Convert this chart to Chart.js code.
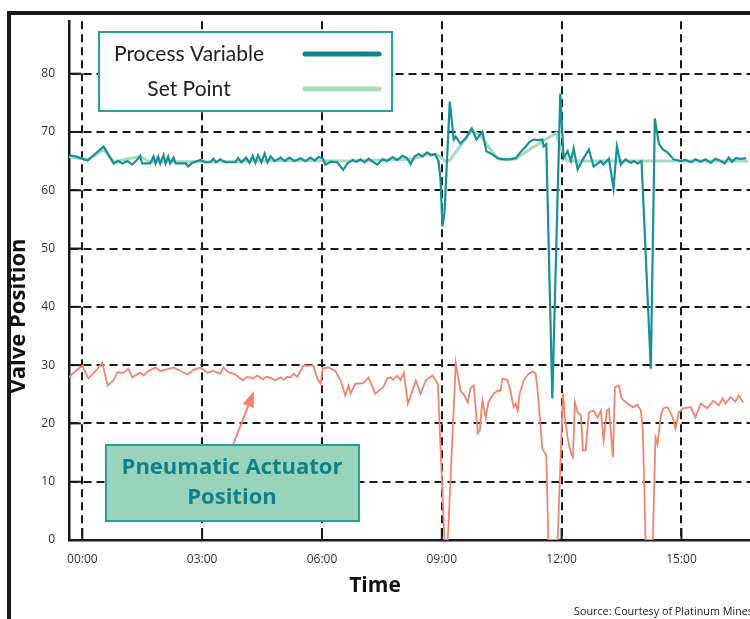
<!DOCTYPE html>
<html lang="en">
<head>
  <meta charset="UTF-8">
  <title>Valve Position</title>
  <script src="https://cdn.jsdelivr.net/npm/chart.js"></script>
  <style>
    html, body { margin: 0; padding: 0; background: #fff; overflow: hidden; }
    #wrap { width: 760px; height: 619px; position: relative; }
  </style>
</head>
<body>
  <div id="wrap"><canvas id="valveChart"></canvas></div>
  <script>
// x axis is minutes since 00:00, labelled every 3 hours
const xTickMinutes = [0, 180, 360, 540, 720, 900];
const xTickLabels = ['00:00', '03:00', '06:00', '09:00', '12:00', '15:00'];
const yTickValues = [0, 10, 20, 30, 40, 50, 60, 70, 80];

// Process Variable
const pvMinutes = [
  -20, -10, 8, 32, 47, 54, 60, 68, 75, 83,
  87, 90, 102, 107, 110, 114, 117, 122, 125, 129,
  132, 137, 140, 155, 159, 165, 177, 185, 192, 197,
  201, 207, 215, 230, 234, 239, 246, 251, 256, 260,
  264, 269, 274, 278, 283, 289, 298, 304, 311, 319,
  328, 335, 343, 349, 355, 361, 365, 373, 383, 392,
  398, 406, 412, 418, 424, 430, 436, 443, 451, 458,
  466, 473, 481, 488, 493, 499, 505, 511, 518, 524,
  530, 535, 538, 541, 544, 552, 558, 561, 568, 576,
  585, 592, 597, 601, 607, 615, 624, 633, 642, 651,
  658, 666, 672, 678, 685, 691, 693, 697, 706, 718,
  723, 729, 734, 738, 744, 752, 761, 768, 779, 783,
  791, 798, 803, 809, 816, 824, 828, 834, 840, 854,
  860, 866, 872, 879, 888, 899, 906, 914, 921, 929,
  936, 944, 951, 959, 965, 971, 976, 982, 989, 997
];
const pvValues = [
  66.0, 65.8, 65.1, 67.5, 64.6, 65.0, 64.6, 65.0, 64.4, 65.3,
  65.9, 64.6, 64.6, 65.8, 64.6, 65.8, 64.6, 66.0, 64.6, 65.8,
  64.6, 65.6, 64.6, 64.6, 64.1, 64.7, 65.2, 64.8, 64.8, 65.4,
  64.8, 65.3, 64.8, 64.8, 65.5, 64.8, 65.6, 64.7, 65.9, 64.7,
  66.0, 64.8, 66.3, 64.8, 65.8, 65.0, 65.6, 65.0, 65.6, 65.0,
  65.5, 65.0, 65.6, 65.1, 65.7, 65.5, 64.4, 64.9, 64.8, 63.5,
  64.6, 65.2, 64.9, 65.3, 64.8, 65.4, 64.9, 64.4, 65.3, 65.0,
  65.7, 65.2, 65.9, 65.5, 64.5, 65.8, 66.2, 65.8, 66.5, 66.0,
  66.2, 65.0, 62.0, 53.8, 56.0, 75.2, 68.7, 69.2, 68.0, 68.9,
  70.6, 68.7, 69.5, 70.0, 66.7, 66.2, 65.5, 65.3, 65.3, 65.5,
  66.5, 67.5, 68.3, 68.7, 68.6, 68.7, 67.5, 67.9, 24.3, 76.6,
  65.5, 66.7, 65.0, 67.2, 63.6, 65.3, 67.0, 64.1, 65.0, 64.4,
  65.4, 60.3, 67.5, 64.4, 65.3, 64.7, 65.0, 64.6, 65.0, 29.4,
  72.3, 68.0, 67.0, 66.5, 65.3, 65.0, 65.2, 64.8, 65.3, 64.9,
  65.3, 64.7, 65.4, 65.0, 64.6, 65.6, 64.9, 65.5, 65.4, 65.5
];

// Set Point
const spMinutes = [-20, 8, 32, 47, 87, 100, 200, 300, 400, 495, 520, 535, 545,
  551, 585, 597, 608, 620, 626, 650, 675, 700, 712, 718, 728, 1000];
const spValues = [65.8, 65.2, 67.0, 64.9, 65.8, 64.9, 64.9, 65.1, 65.0, 65.3, 66.2, 66.0, 65.0,
  65.0, 70.3, 69.5, 67.8, 66.0, 65.3, 65.3, 67.2, 69.0, 69.8, 67.5, 65.0, 65.0];

// Pneumatic Actuator Position
const paMinutes = [
  -20, -10, 0, 9, 20, 30, 38, 47, 53, 62,
  69, 75, 87, 92, 99, 110, 117, 128, 137, 147,
  158, 167, 177, 188, 197, 207, 212, 219, 230, 241,
  248, 256, 263, 271, 277, 283, 290, 298, 302, 308,
  313, 317, 323, 328, 332, 347, 353, 358, 361, 370,
  380, 388, 395, 400, 403, 410, 422, 430, 440, 452,
  458, 463, 467, 473, 478, 483, 489, 496, 501, 508,
  516, 526, 534, 544, 549, 561, 568, 573, 579, 583,
  588, 594, 597, 601, 606, 610, 618, 624, 628, 631,
  639, 643, 648, 651, 654, 657, 663, 670, 676, 681,
  684, 691, 697, 700, 714, 722, 725, 729, 734, 737,
  740, 744, 749, 752, 756, 761, 768, 774, 779, 783,
  788, 791, 797, 800, 806, 810, 819, 827, 834, 839,
  842, 846, 857, 861, 864, 869, 873, 879, 887, 891,
  896, 903, 914, 921, 929, 939, 948, 956, 962, 966,
  974, 981, 986, 993
];
const paValues = [
  27.9, 29.0, 29.9, 27.7, 29.0, 30.4, 26.5, 27.4, 28.8, 28.7,
  29.4, 27.9, 28.7, 28.2, 29.0, 29.6, 29.0, 29.3, 29.6, 29.0,
  28.4, 29.2, 29.6, 28.7, 29.0, 28.5, 29.6, 28.8, 28.4, 27.4,
  28.0, 27.7, 28.2, 27.6, 28.0, 27.8, 27.4, 27.9, 27.5, 28.0,
  27.9, 28.5, 28.0, 29.0, 29.9, 29.9, 27.7, 26.8, 29.4, 29.6,
  29.0, 27.4, 24.8, 26.5, 25.1, 26.8, 26.9, 27.9, 25.1, 26.2,
  27.7, 27.9, 27.5, 28.2, 27.4, 28.7, 23.4, 25.6, 27.4, 25.1,
  27.4, 28.2, 26.8, 0, 0, 30.4, 25.6, 25.0, 23.6, 26.0,
  26.5, 18.3, 18.8, 23.9, 21.0, 23.6, 25.1, 25.6, 25.6, 27.7,
  27.4, 25.6, 22.8, 23.4, 22.2, 25.1, 27.4, 28.5, 28.9, 28.6,
  25.6, 15.7, 14.5, 0, 0, 25.1, 21.0, 17.6, 14.8, 14.2,
  23.6, 21.9, 21.4, 15.4, 15.4, 21.9, 22.2, 21.0, 22.2, 17.1,
  22.2, 22.5, 14.2, 26.2, 26.5, 24.3, 23.4, 22.8, 23.2, 22.2,
  18.8, 0, 0, 17.6, 16.5, 21.4, 22.6, 22.8, 21.0, 19.1,
  21.9, 22.6, 22.8, 21.0, 23.4, 22.6, 23.9, 23.1, 24.3, 23.4,
  24.5, 23.7, 24.8, 23.6
];

const pvColor = '#17909a';
const spColor = '#a6d9bd';
const paColor = '#f2846f';
const gridColor = '#1a1a1a';

const toPoints = (xs, ys) => xs.map((m, i) => ({ x: m, y: ys[i] }));

// legend, callout box, arrow, axis titles and the outer frame
const decor = {
  id: 'decor',
  afterDraw(chart) {
    const { ctx, chartArea, scales } = chart;
    ctx.save();
    ctx.setLineDash([]);

    // short solid stubs where the grid meets the axes
    ctx.strokeStyle = gridColor;
    ctx.lineWidth = 2;
    yTickValues.forEach(v => {
      const py = scales.y.getPixelForValue(v);
      ctx.beginPath(); ctx.moveTo(chartArea.left, py); ctx.lineTo(chartArea.left + 12, py); ctx.stroke();
    });
    xTickMinutes.forEach(v => {
      const px = scales.x.getPixelForValue(v);
      ctx.beginPath(); ctx.moveTo(px, chartArea.bottom); ctx.lineTo(px, chartArea.bottom - 12); ctx.stroke();
    });

    // legend
    ctx.fillStyle = '#fff';
    ctx.fillRect(99, 32, 293, 79);
    ctx.strokeStyle = '#2a9ea0';
    ctx.lineWidth = 2;
    ctx.strokeRect(99, 32, 293, 79);
    ctx.fillStyle = '#222';
    ctx.font = '21px Lato';
    ctx.textAlign = 'center';
    ctx.textBaseline = 'middle';
    ctx.fillText('Process Variable', 189, 54);
    ctx.fillText('Set Point', 189, 89);
    ctx.lineCap = 'round';
    ctx.lineWidth = 5;
    ctx.strokeStyle = '#10828b';
    ctx.beginPath(); ctx.moveTo(305, 54); ctx.lineTo(379, 54); ctx.stroke();
    ctx.strokeStyle = spColor;
    ctx.beginPath(); ctx.moveTo(305, 89); ctx.lineTo(379, 89); ctx.stroke();
    ctx.lineCap = 'butt';

    // arrow to the actuator trace
    ctx.strokeStyle = paColor;
    ctx.fillStyle = paColor;
    ctx.lineWidth = 2;
    const ax = 233, ay = 445, tx = 254, ty = 391;
    const ang = Math.atan2(ty - ay, tx - ax);
    ctx.beginPath(); ctx.moveTo(ax, ay); ctx.lineTo(tx - 12 * Math.cos(ang), ty - 12 * Math.sin(ang)); ctx.stroke();
    ctx.beginPath();
    ctx.moveTo(tx, ty);
    ctx.lineTo(tx - 16 * Math.cos(ang) + 6 * Math.sin(ang), ty - 16 * Math.sin(ang) - 6 * Math.cos(ang));
    ctx.lineTo(tx - 16 * Math.cos(ang) - 6 * Math.sin(ang), ty - 16 * Math.sin(ang) + 6 * Math.cos(ang));
    ctx.closePath(); ctx.fill();

    // callout box
    ctx.fillStyle = '#98d3bb';
    ctx.fillRect(106, 445, 253, 76);
    ctx.strokeStyle = '#2a9d9d';
    ctx.lineWidth = 2;
    ctx.strokeRect(106, 445, 253, 76);
    ctx.fillStyle = '#128089';
    ctx.font = 'bold 22px "Open Sans"';
    ctx.fillText('Pneumatic Actuator', 232, 468);
    ctx.fillText('Position', 232, 498);

    // axis titles
    ctx.fillStyle = '#111';
    ctx.font = 'bold 21px "Open Sans"';
    ctx.fillText('Time', 375, 586);
    ctx.save();
    ctx.translate(19, 316);
    ctx.rotate(-Math.PI / 2);
    ctx.font = 'bold 22px "Open Sans"';
    ctx.fillText('Valve Position', 0, 0);
    ctx.restore();

    ctx.font = '10.8px "Open Sans"';
    ctx.fillStyle = '#222';
    ctx.textAlign = 'left';
    ctx.fillText('Source: Courtesy of Platinum Mines', 574, 612);

    // outer frame (top and left edges only)
    ctx.fillStyle = '#1a1a1a';
    ctx.fillRect(7, 11, 760, 4);
    ctx.fillRect(7, 11, 4, 620);
    ctx.restore();
  }
};

new Chart(document.getElementById('valveChart'), {
  type: 'line',
  data: {
    datasets: [
      { label: 'Process Variable', data: toPoints(pvMinutes, pvValues), borderColor: pvColor, borderWidth: 2.2, pointRadius: 0, tension: 0 },
      { label: 'Set Point', data: toPoints(spMinutes, spValues), borderColor: spColor, borderWidth: 3, pointRadius: 0, tension: 0 },
      { label: 'Pneumatic Actuator Position', data: toPoints(paMinutes, paValues), borderColor: paColor, borderWidth: 1.8, pointRadius: 0, tension: 0 }
    ]
  },
  options: {
    responsive: true,
    maintainAspectRatio: false,
    animation: false,
    layout: { padding: { top: 19, left: 0, right: 0, bottom: 0 } },
    plugins: { legend: { display: false }, tooltip: { enabled: false } },
    scales: {
      x: {
        type: 'linear',
        min: -20,
        max: 1018,
        afterBuildTicks: s => { s.ticks = xTickMinutes.map(v => ({ value: v })); },
        afterFit: s => { s.height = 79; },
        ticks: {
          autoSkip: false, maxRotation: 0, padding: 12, color: '#333',
          font: { family: 'Open Sans', size: 12 },
          callback: (v, i) => xTickLabels[i]
        },
        grid: { color: gridColor, lineWidth: 2, drawTicks: false },
        border: { color: gridColor, width: 2.5, dash: [8, 5] }
      },
      y: {
        min: 0,
        max: 89,
        afterBuildTicks: s => { s.ticks = yTickValues.map(v => ({ value: v })); },
        afterFit: s => { s.width = 69; },
        ticks: {
          autoSkip: false, padding: 14, color: '#333',
          font: { family: 'Open Sans', size: 12 }
        },
        grid: { color: gridColor, lineWidth: 2, drawTicks: false },
        border: { color: gridColor, width: 2.5, dash: [8, 5] }
      }
    }
  },
  plugins: [decor]
});
  </script>
</body>
</html>
